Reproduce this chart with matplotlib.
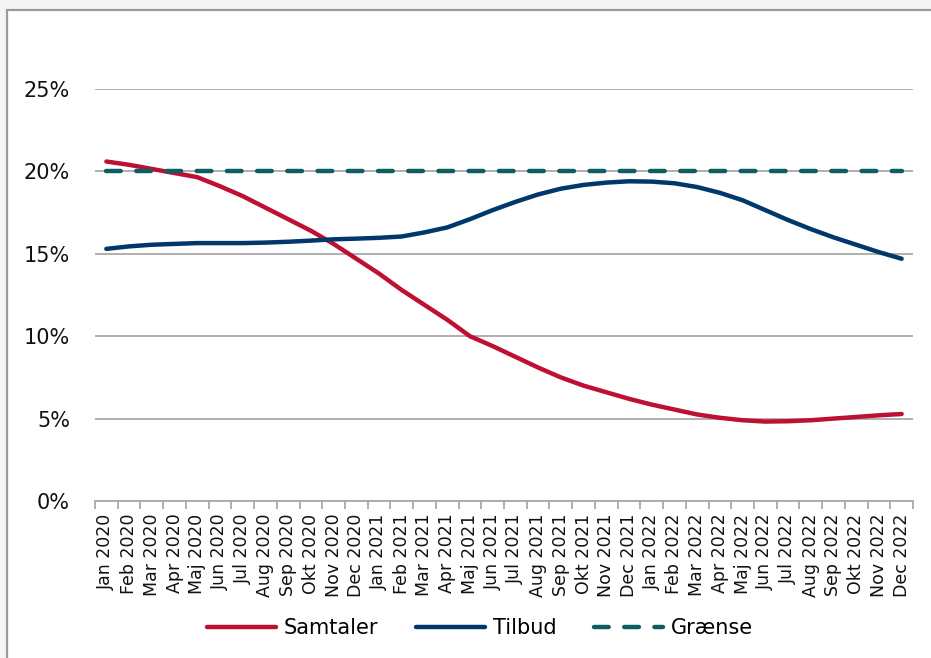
import matplotlib
matplotlib.use("Agg")
import matplotlib.pyplot as plt
from matplotlib.patches import Rectangle
from matplotlib.ticker import FixedLocator, FuncFormatter

months = ["Jan", "Feb", "Mar", "Apr", "Maj", "Jun", "Jul", "Aug", "Sep", "Okt", "Nov", "Dec"]
years = [2020, 2021, 2022]
labels = [f"{m} {y}" for y in years for m in months]

samtaler = [20.6, 20.4, 20.15, 19.9, 19.65, 19.1, 18.5, 17.8, 17.1, 16.4, 15.6, 14.7,
            13.8, 12.8, 11.9, 11.0, 10.0, 9.4, 8.75, 8.1, 7.5, 7.0, 6.6, 6.2,
            5.85, 5.55, 5.25, 5.05, 4.9, 4.82, 4.84, 4.9, 5.0, 5.1, 5.2, 5.28]
tilbud = [15.3, 15.45, 15.55, 15.6, 15.65, 15.65, 15.65, 15.68, 15.73, 15.8, 15.88, 15.92,
          15.97, 16.05, 16.3, 16.6, 17.1, 17.65, 18.15, 18.6, 18.95, 19.18, 19.32, 19.4,
          19.38, 19.28, 19.05, 18.7, 18.25, 17.65, 17.05, 16.5, 16.0, 15.55, 15.1, 14.7]
graense = [20.0] * 36

W, H = 931, 658
fig = plt.figure(figsize=(W / 100, H / 100), dpi=100, facecolor="#f4f6f4")
bg = fig.add_axes([0, 0, 1, 1], zorder=-10)
bg.set_xlim(0, W)
bg.set_ylim(H, 0)
bg.axis("off")
bg.add_patch(Rectangle((7, 9.5), W + 20, H + 20, facecolor="white", edgecolor="#9a9a9a",
                       linewidth=1.6))

ax = fig.add_axes([95 / W, 1 - 501 / H, (913 - 95) / W, (501 - 89) / H], zorder=1)
ax.set_facecolor("none")
x = list(range(len(labels)))

ax.plot(x, samtaler, color="#be0f34", lw=3.2, solid_capstyle="round", label="Samtaler", zorder=3)
ax.plot(x, tilbud, color="#00386b", lw=3.2, solid_capstyle="round", label="Tilbud", zorder=3)
ax.plot(x, graense, color="#0e5d60", lw=3.2, dashes=(3.3, 3.5), dash_capstyle="round",
        label="Grænse", zorder=3)

ax.set_xlim(-0.5, len(labels) - 0.5)
ax.set_ylim(0, 25)
ax.set_yticks([0, 5, 10, 15, 20, 25])
ax.yaxis.set_major_formatter(FuncFormatter(lambda v, p: f"{v:.0f}%"))
ax.grid(axis="y", color="#a9a9a9", lw=1.3)
ax.set_axisbelow(True)

ax.set_xticks(x)
ax.set_xticklabels(labels, rotation=90, fontsize=12.5, family="DejaVu Sans", color="#111111")
ax.tick_params(axis="x", which="major", length=0, pad=9)
ax.xaxis.set_minor_locator(FixedLocator([i - 0.5 for i in range(len(labels) + 1)]))
ax.tick_params(axis="x", which="minor", length=6, width=1.3, color="#a9a9a9")
ax.tick_params(axis="y", length=0, pad=18, labelsize=15, labelcolor="#111111")

for s in ["left", "right", "top"]:
    ax.spines[s].set_visible(False)
ax.spines["bottom"].set_color("#a9a9a9")
ax.spines["bottom"].set_linewidth(1.3)

fig.legend(loc="center", bbox_to_anchor=(480 / W, 1 - 628 / H), ncol=3, frameon=False,
           fontsize=15, handlelength=3.3, handletextpad=0.4, columnspacing=1.8)

fig.savefig("out.png", dpi=100, facecolor=fig.get_facecolor())
